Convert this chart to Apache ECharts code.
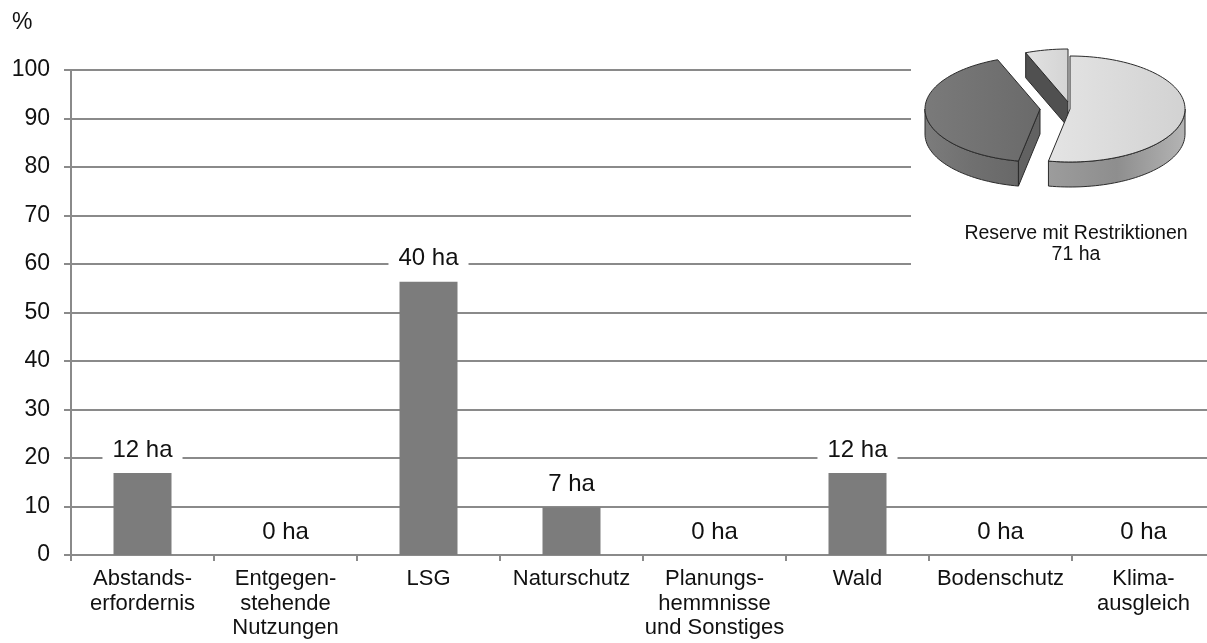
<!DOCTYPE html>
<html>
<head>
<meta charset="utf-8">
<title>Reserve mit Restriktionen</title>
<script src="https://cdn.jsdelivr.net/npm/echarts@6/dist/echarts.min.js"></script>
<style>
  html, body { margin: 0; padding: 0; background: #fff; overflow: hidden; }
  #chart { width: 1207px; height: 643px; }
</style>
</head>
<body>
<div id="chart"></div>
<script>
// Restriction categories (x axis)
const categories = [
  'Abstands-\nerfordernis',
  'Entgegen-\nstehende\nNutzungen',
  'LSG',
  'Naturschutz',
  'Planungs-\nhemmnisse\nund Sonstiges',
  'Wald',
  'Bodenschutz',
  'Klima-\nausgleich'
];
// Area per restriction in hectares
const hectares = [12, 0, 40, 7, 0, 12, 0, 0];
// Total reserve area with restrictions (ha)
const reserveTotal = 71;
// Y axis range and step (%)
const yMin = 0, yMax = 100, yStep = 10;

// Inset pie: shares in %, clockwise from 12 o'clock (light, dark, small)
const pieShares = [53, 41, 6];

// Share of the total, in percent, for each category
const percent = hectares.map(h => h / reserveTotal * 100);

const FONT = '"Liberation Sans", Arial, sans-serif';
const GRID_COLOR = '#8a8a8a';

// ---- inset pie geometry (pixels) ----
const PIE = { cx: 1055, cy: 109, rx: 115, ry: 53, depth: 25 };
// explode offsets for each slice
const pieOffsets = [[15, 0], [-15, 0], [13, -7]];
const pieStyles = [
  { top: ['#e4e4e4', '#d2d2d2'], side: ['#9c9c9c', '#8e8e8e', '#b4b4b4'], wall: '#8a8a8a' },
  { top: ['#7a7a7a', '#6a6a6a'], side: ['#7c7c7c', '#707070', '#686868'], wall: '#626262' },
  { top: ['#e2e2e2', '#d4d4d4'], side: ['#8a8a8a', '#8a8a8a', '#8a8a8a'], wall: '#505050' }
];

// angular extent of each slice, degrees, counter-clockwise [a0, a1]
const pieSum = pieShares.reduce((a, b) => a + b, 0);
const sliceAngles = [];
(function () {
  let start = 90;
  pieShares.forEach(v => {
    const end = start - v / pieSum * 360;
    sliceAngles.push([end, start]);
    start = end;
  });
})();

const DEG = Math.PI / 180;
function rim(cx, cy, t, drop) {
  return [cx + PIE.rx * Math.cos(t * DEG), cy - PIE.ry * Math.sin(t * DEG) + (drop || 0)];
}
function arc(cx, cy, t0, t1, drop) {
  const pts = [];
  const n = Math.max(2, Math.ceil(Math.abs(t1 - t0) / 2));
  for (let k = 0; k <= n; k++) pts.push(rim(cx, cy, t0 + (t1 - t0) * k / n, drop));
  return pts;
}
function hGrad(stops) {
  return new echarts.graphic.LinearGradient(0, 0, 1, 0,
    stops.map((c, k) => ({ offset: stops.length === 1 ? 0 : k / (stops.length - 1), color: c })));
}

function renderSlice(params) {
  const i = params.dataIndex;
  const [a0, a1] = sliceAngles[i];
  const cx = PIE.cx + pieOffsets[i][0];
  const cy = PIE.cy + pieOffsets[i][1];
  const d = PIE.depth;
  const st = pieStyles[i];
  const mid = (a0 + a1) / 2;
  const base = Math.round(-Math.sin(mid * DEG) * 10) * 10;
  const stroke = { stroke: '#2b2b2b', lineWidth: 1 };
  const children = [];
  const apex = [cx, cy];
  const apexLow = [cx, cy + d];

  // curved outer wall on the front half
  const f0 = Math.max(a0, -180), f1 = Math.min(a1, 0);
  if (f1 > f0) {
    const pts = arc(cx, cy, f0, f1, 0).concat(arc(cx, cy, f1, f0, d));
    children.push({ type: 'polygon', z2: base, shape: { points: pts },
      style: Object.assign({ fill: hGrad(st.side) }, stroke) });
  }
  // radial walls facing the viewer
  if (Math.cos(a0 * DEG) > 0.01) {
    const r = rim(cx, cy, a0, 0);
    children.push({ type: 'polygon', z2: base + 1,
      shape: { points: [apex, r, [r[0], r[1] + d], apexLow] },
      style: Object.assign({ fill: st.wall }, stroke) });
  }
  if (Math.cos(a1 * DEG) < -0.01) {
    const r = rim(cx, cy, a1, 0);
    children.push({ type: 'polygon', z2: base + 1,
      shape: { points: [apex, r, [r[0], r[1] + d], apexLow] },
      style: Object.assign({ fill: st.wall }, stroke) });
  }
  // top face
  children.push({ type: 'polygon', z2: base + 2,
    shape: { points: [apex].concat(arc(cx, cy, a0, a1, 0)) },
    style: Object.assign({ fill: hGrad(st.top) }, stroke) });

  return { type: 'group', children };
}

const chart = echarts.init(document.getElementById('chart'), null, { renderer: 'canvas' });

chart.setOption({
  animation: false,
  backgroundColor: '#fff',
  textStyle: { fontFamily: FONT },
  grid: {
    left: 71, top: 70, width: 1144, height: 485,
    outerBoundsMode: 'none', containLabel: false
  },
  xAxis: {
    type: 'category',
    data: categories,
    axisLine: { lineStyle: { color: GRID_COLOR, width: 2 } },
    axisTick: { show: true, length: 6, lineStyle: { color: GRID_COLOR, width: 2 } },
    axisLabel: {
      interval: 0, margin: 12, fontSize: 22, lineHeight: 24.5,
      color: '#111', fontFamily: FONT, verticalAlign: 'top'
    },
    splitLine: { show: false }
  },
  yAxis: {
    type: 'value',
    min: yMin, max: yMax, interval: yStep,
    axisLine: { show: true, lineStyle: { color: GRID_COLOR, width: 2 } },
    axisTick: { show: true, length: 7, lineStyle: { color: GRID_COLOR, width: 2 } },
    axisLabel: { margin: 21, fontSize: 23, color: '#111', fontFamily: FONT },
    splitLine: { show: true, lineStyle: { color: GRID_COLOR, width: 2 } }
  },
  graphic: [
    // backdrop of the inset pie (hides the upper grid lines)
    { type: 'rect', z: 3, silent: true,
      shape: { x: 911, y: 40, width: 296, height: 250 },
      style: { fill: '#fff' } },
    { type: 'text', z: 4, silent: true, x: 12, y: 23,
      style: { text: '%', font: '23px ' + FONT, fill: '#111', verticalAlign: 'middle' } },
    { type: 'text', z: 12, silent: true, x: 1076, y: 244,
      style: {
        text: 'Reserve mit Restriktionen\n' + reserveTotal + ' ha',
        font: '19.5px ' + FONT, lineHeight: 21, fill: '#111',
        align: 'center', verticalAlign: 'middle'
      } }
  ],
  series: [
    {
      type: 'bar',
      data: percent,
      barWidth: 58,
      itemStyle: { color: '#7c7c7c' },
      z: 5,
      label: {
        show: true,
        position: 'top',
        distance: 11,
        formatter: p => hectares[p.dataIndex] + ' ha',
        fontSize: 24,
        fontFamily: FONT,
        color: '#111',
        backgroundColor: '#fff',
        padding: [1, 10, 0, 10]
      }
    },
    {
      type: 'custom',
      coordinateSystem: 'none',
      z: 10,
      silent: true,
      data: pieShares.map(v => ({ value: v })),
      renderItem: renderSlice
    }
  ]
});
</script>
</body>
</html>
